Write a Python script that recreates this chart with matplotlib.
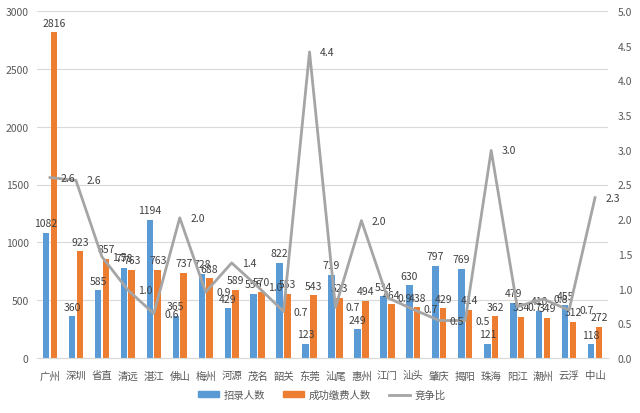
import matplotlib
matplotlib.use("Agg")
import matplotlib.pyplot as plt
import numpy as np
from matplotlib.patches import Patch
from matplotlib.lines import Line2D

plt.rcParams['font.family'] = ['Noto Sans CJK SC', 'DejaVu Sans']

# data
cities = ['广州', '深圳', '省直', '清远', '湛江', '佛山', '梅州', '河源', '茂名', '韶关', '东莞',
          '汕尾', '惠州', '江门', '汕头', '肇庆', '揭阳', '珠海', '阳江', '潮州', '云浮', '中山']
recruit = [1082, 360, 585, 778, 1194, 365, 728, 429, 556, 822, 123,
           719, 249, 534, 630, 797, 769, 121, 479, 410, 455, 118]
paid = [2816, 923, 857, 763, 763, 737, 688, 589, 570, 553, 543,
        523, 494, 464, 438, 429, 414, 362, 354, 349, 312, 272]
ratio = [2.60, 2.56, 1.46, 0.98, 0.64, 2.02, 0.95, 1.37, 1.03, 0.67, 4.41,
         0.73, 1.98, 0.87, 0.70, 0.54, 0.54, 2.99, 0.74, 0.85, 0.69, 2.31]

BLUE = '#5B9BD5'
ORANGE = '#ED7D31'
GRAY = '#A5A5A5'
TXT = '#404040'


def main():
   fig = plt.figure(figsize=(6.4, 4.14), dpi=100)
   ax = fig.add_axes([37/640, 1 - 359/414, (608 - 37)/640, (359 - 12)/414])
   ax2 = ax.twinx()

   x = np.arange(len(cities))
   w = 0.25
   ax.bar(x - 0.15, recruit, w, color=BLUE, zorder=2)
   ax.bar(x + 0.15, paid, w, color=ORANGE, zorder=2)
   for i in range(len(cities)):
      ax.text(x[i] - 0.15, recruit[i] + 40, str(recruit[i]), ha='center', va='bottom',
              fontsize=7.5, color=TXT, zorder=3)
      ax.text(x[i] + 0.15, paid[i] + 40, str(paid[i]), ha='center', va='bottom',
              fontsize=7.5, color=TXT, zorder=3)

   ax2.plot(x, ratio, color=GRAY, lw=2, zorder=4)
   for i in range(len(cities)):
      ax2.text(x[i] + 0.4, ratio[i], '%.1f' % ratio[i], ha='left', va='center',
               fontsize=7.5, color=TXT, zorder=5)

   ax.set_xlim(-0.5, len(cities) - 0.5)
   ax.set_ylim(0, 3000)
   ax.set_yticks(range(0, 3001, 500))
   ax2.set_ylim(0, 5)
   ax2.set_yticks(np.arange(0, 5.01, 0.5))
   ax2.set_yticklabels(['%.1f' % v for v in np.arange(0, 5.01, 0.5)])
   ax.set_xticks(x)
   ax.set_xticklabels(cities)

   ax.grid(axis='y', color='#D9D9D9', lw=0.8, zorder=0)
   ax.set_axisbelow(True)
   for a in (ax, ax2):
      for s in a.spines.values():
         s.set_visible(False)
      a.tick_params(length=0, labelsize=7.5, labelcolor='#595959')
   ax.spines['bottom'].set_visible(True)
   ax.spines['bottom'].set_color('#D9D9D9')
   ax.tick_params(axis='x', pad=9, labelsize=7.5)
   ax.tick_params(axis='y', pad=6)
   ax2.tick_params(axis='y', pad=7)

   handles = [Patch(color=BLUE), Patch(color=ORANGE), Line2D([], [], color=GRAY, lw=2)]
   fig.legend(handles, ['招录人数', '成功缴费人数', '竞争比'], loc='center',
              bbox_to_anchor=(0.503, 1 - 396/414), ncol=3, frameon=False,
              fontsize=7.5, handlelength=2.0, handleheight=0.5, handletextpad=0.4,
              columnspacing=1.8, labelcolor='#595959')

   fig.savefig('out.png', dpi=100)


main()
